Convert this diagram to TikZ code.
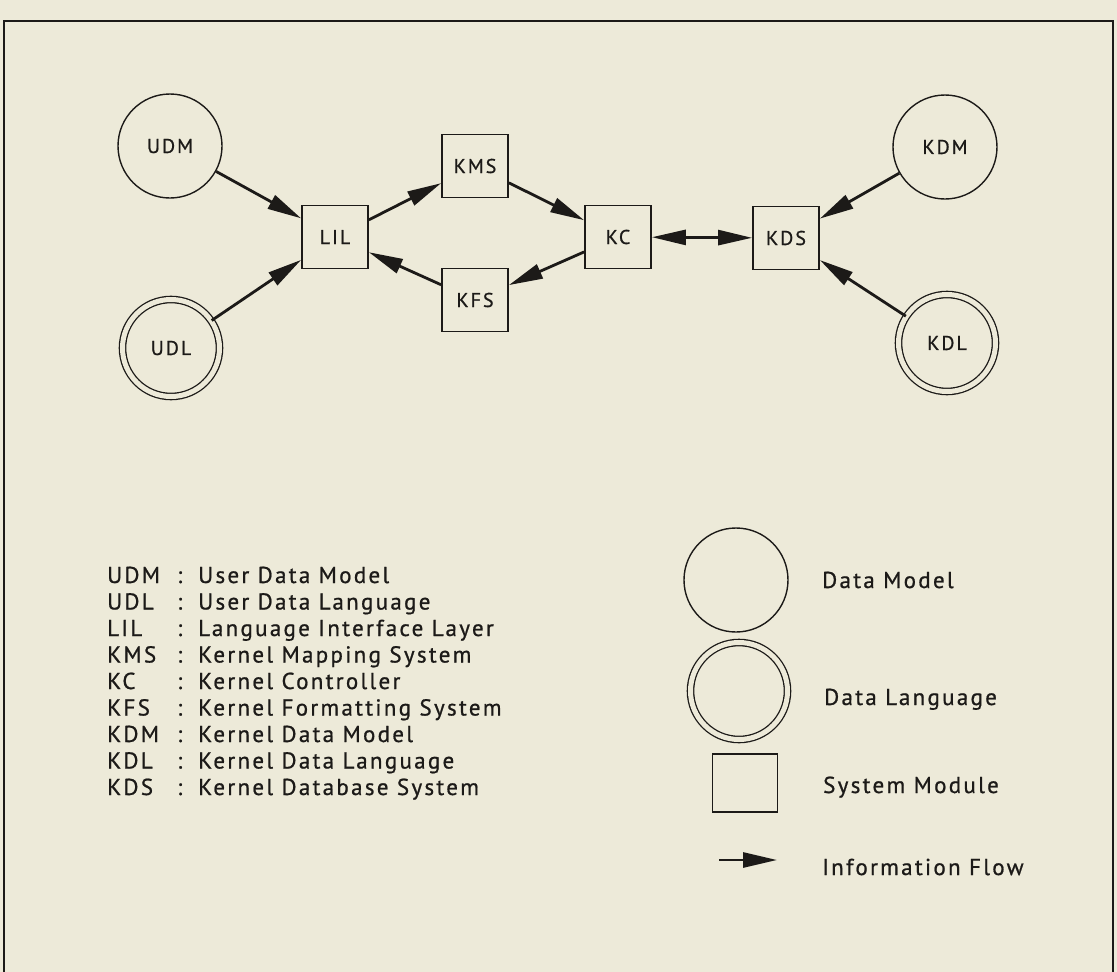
\documentclass[tikz,border=0pt]{standalone}
\usepackage{fontspec}
\setmainfont{PT Sans}[LetterSpace=10,FakeBold=0.8]
\usetikzlibrary{arrows.meta}
\definecolor{paper}{RGB}{237,234,217}
\definecolor{ink}{RGB}{28,26,24}
\begin{document}
\begin{tikzpicture}[x=1pt,y=-1pt,
  every node/.style={text=ink},
  model/.style={circle,draw=ink,line width=1.4pt,minimum size=104pt,inner sep=0pt,font=\fontsize{20}{24}\selectfont},
  lang/.style={circle,draw=ink,double=paper,double distance=5pt,line width=1.3pt,minimum size=97pt,inner sep=0pt,font=\fontsize{20}{24}\selectfont},
  module/.style={rectangle,draw=ink,line width=1.8pt,minimum width=66pt,minimum height=63pt,inner sep=0pt,font=\fontsize{20}{24}\selectfont},
  flow/.style={draw=ink,line width=2.8pt,-{Triangle[length=34pt,width=15pt]}},
  biflow/.style={draw=ink,line width=2.8pt,{Triangle[length=34pt,width=15pt]}-{Triangle[length=34pt,width=15pt]}},
  lab/.style={anchor=base west,inner sep=0pt,font=\fontsize{23}{27}\selectfont},
]
\clip (0,0) rectangle (1117,972);
\fill[paper] (0,0) rectangle (1117,972);
\draw[ink,line width=2pt] (4,990) -- (4,21) -- (1113,21) -- (1113,990);

% diagram
\node[model] (UDM) at (170,146) {UDM};
\node[lang]  (UDL) at (171,348) {UDL};
\node[module] (LIL) at (335,237) {LIL};
\node[module] (KMS) at (475,166) {KMS};
\node[module] (KFS) at (475,300) {KFS};
\node[module] (KC)  at (618,237) {KC};
\node[module] (KDS) at (786,238) {KDS};
\node[model] (KDM) at (945,147) {KDM};
\node[lang]  (KDL) at (947,343) {KDL};

\draw[flow] (UDM) -- (LIL);
\draw[flow] (UDL) -- (LIL);
\draw[flow] (LIL) -- (KMS);
\draw[flow] (KMS) -- (KC);
\draw[flow] (KC) -- (KFS);
\draw[flow] (KFS) -- (LIL);
\draw[biflow] (KC) -- (KDS);
\draw[flow] (KDM) -- (KDS);
\draw[flow] (KDL) -- (KDS);

% legend, abbreviations
\foreach \a/\d [count=\i] in {UDM/User Data Model, UDL/User Data Language, LIL/Language Interface Layer, KMS/Kernel Mapping System, KC/Kernel Controller, KFS/Kernel Formatting System, KDM/Kernel Data Model, KDL/Kernel Data Language, KDS/Kernel Database System}{
  \node[lab] (ab\i) at (107,{583+(\i-1)*26.5}) {\a};
  \node[lab] (co\i) at (177,{583+(\i-1)*26.5}) {:};
  \node[lab] (de\i) at (198,{583+(\i-1)*26.5}) {\d};
}

% legend, symbols
\node[model] (lgModel) at (736,580) {};
\node[lab] (txModel) at (822,588) {Data Model};
\node[lang] (lgLang) at (739,691) {};
\node[lab] (txLang) at (824,705) {Data Language};
\node[module,minimum width=65pt,minimum height=58pt] (lgModule) at (745,783) {};
\node[lab] (txModule) at (823,793) {System Module};
\coordinate (fa) at (719,860);
\coordinate (fb) at (777,860);
\draw[flow] (fa) -- (fb);
\node[lab] (txFlow) at (822,875) {Information Flow};
\end{tikzpicture}
\end{document}
